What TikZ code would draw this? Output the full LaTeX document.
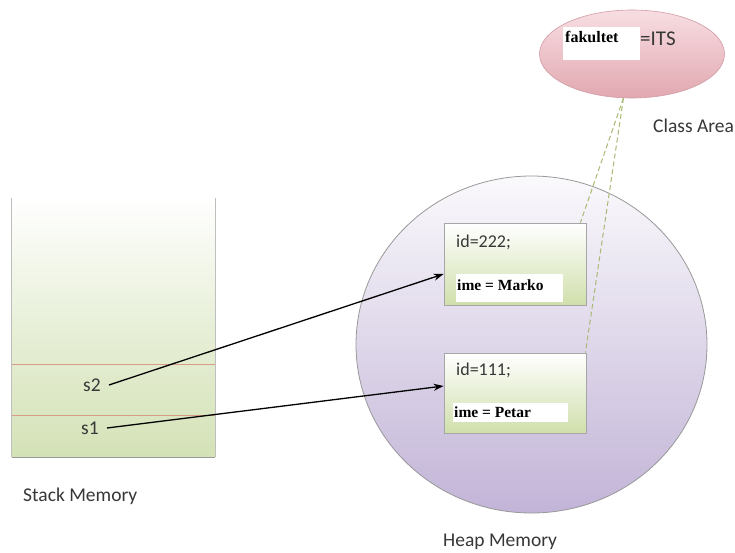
\documentclass[tikz,border=0pt]{standalone}
\usepackage{fontspec}
\setmainfont{Carlito}
\newfontfamily\timesfont{Liberation Serif}
\usetikzlibrary{shapes.geometric,shadows,arrows.meta}

\definecolor{stackgreen}{RGB}{212,226,183}
\definecolor{boxgreen}{RGB}{208,223,172}
\definecolor{heaptop}{RGB}{250,249,252}
\definecolor{heapbot}{RGB}{194,180,215}
\definecolor{pinktop}{RGB}{247,222,226}
\definecolor{pinkbot}{RGB}{226,168,177}
\definecolor{pinkedge}{RGB}{210,155,165}
\definecolor{dividerred}{RGB}{214,158,135}
\definecolor{linkgreen}{RGB}{168,186,115}
\definecolor{labelgray}{RGB}{55,55,55}

\tikzset{
  plain/.style={font=\fontsize{19.5}{22}\selectfont, text=labelgray, inner sep=0pt},
  idtext/.style={font=\fontsize{18}{21}\selectfont, text=labelgray, inner sep=0pt, anchor=west},
  imetext/.style={font=\timesfont\bfseries\fontsize{15.5}{18}\selectfont, text=black, inner sep=0pt, anchor=west},
  whitepad/.style={fill=white, draw=none, inner sep=0pt, anchor=north west},
  objbox/.style={rectangle, draw=black!35, line width=0.8pt, top color=white, bottom color=boxgreen,
    minimum width=142pt, drop shadow={opacity=0.25, shadow xshift=1.2pt, shadow yshift=-1.2pt}},
  heapball/.style={ellipse, draw=black!40, line width=0.8pt, top color=heaptop, bottom color=heapbot,
    minimum width=351pt, minimum height=337pt},
  classball/.style={ellipse, draw=pinkedge, line width=0.6pt, top color=pinktop, bottom color=pinkbot,
    minimum width=185pt, minimum height=88pt},
  ptr/.style={-{Stealth[length=10pt,width=7pt]}, line width=1.3pt, black},
  classlink/.style={linkgreen, line width=1pt, dash pattern=on 5pt off 3pt},
}

\begin{document}
\begin{tikzpicture}[x=1pt,y=-1pt]
\useasboundingbox (0,0) rectangle (735,553);
\fill[white] (0,0) rectangle (735,553);

% stack memory column
\node[rectangle, inner sep=0pt, minimum width=203pt, minimum height=259pt,
      top color=white, bottom color=stackgreen, middle color=stackgreen!55] (stack) at (113.5,327.5) {};
\draw[black!25, line width=0.7pt] (stack.north west) -- (stack.south west);
\draw[black!25, line width=0.7pt] (stack.north east) -- (stack.south east);
\draw[black!40, line width=0.9pt] (stack.south west) -- (stack.south east);
\draw[dividerred, line width=0.6pt] (12,364) -- (215,364);
\draw[dividerred, line width=0.6pt] (12,415) -- (215,415);
\node[plain] (s2) at (92,385) {s2};
\node[plain] (s1) at (90,428) {s1};
\node[plain, anchor=west] (stacklbl) at (23,496) {Stack Memory};

% heap memory
\node[heapball] (heap) at (531.5,344.5) {};
\node[plain, anchor=west] (heaplbl) at (443,542) {Heap Memory};

\node[objbox, minimum height=82pt] (obj2) at (515,264) {};
\node[idtext] (id2) at (456,242) {id=222;};
\node[whitepad, minimum width=107pt, minimum height=28pt] (pad2) at (456,274) {};
\node[imetext] (ime2) at (457,285) {ime = Marko};

\node[objbox, minimum height=80pt] (obj1) at (515,393) {};
\node[idtext] (id1) at (456,370) {id=111;};
\node[whitepad, minimum width=115pt, minimum height=19pt] (pad1) at (453,403) {};
\node[imetext] (ime1) at (454,412) {ime = Petar};

% class area
\node[classball] (cls) at (632,54) {};
\node[whitepad, minimum width=77pt, minimum height=33pt] (fakpad) at (563,27) {};
\node[imetext, font=\timesfont\bfseries\fontsize{16}{19}\selectfont] (fak) at (565,37) {fakultet};
\node[plain, anchor=west, font=\fontsize{21}{24}\selectfont] (its) at (640,39) {=ITS};
\node[plain, anchor=west] (clslbl) at (653,126) {Class Area};

% references from the stack into the heap
\draw[ptr] ([xshift=8pt]s2.east) -- ([yshift=-10pt]obj2.west);
\draw[ptr] ([xshift=8pt]s1.east) -- ([yshift=7pt]obj1.west);

% objects linked to the shared class data
\draw[classlink] (cls.259) -- ([xshift=-6pt]obj2.north east);
\draw[classlink] (cls.259) -- ([xshift=-1pt]obj1.north east);
\end{tikzpicture}
\end{document}
